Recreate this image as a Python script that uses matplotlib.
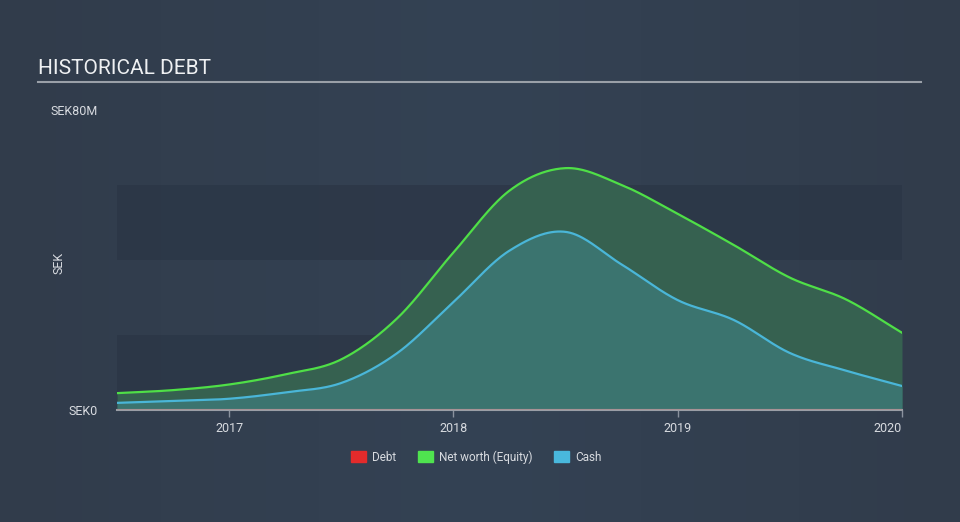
import numpy as np
import matplotlib
matplotlib.use("Agg")
import matplotlib.pyplot as plt
from matplotlib.patches import Patch
from matplotlib.colors import LinearSegmentedColormap

plt.rcParams['font.family'] = ['Roboto', 'DejaVu Sans']

# ---- data (SEK millions) ----
dates = [2016.5, 2016.75, 2017.0, 2017.25, 2017.5, 2017.75, 2018.0, 2018.25,
         2018.5, 2018.75, 2019.0, 2019.25, 2019.5, 2019.75, 2020.0]
net_worth = [4.5, 5.3, 6.8, 9.5, 13.5, 24.5, 42.0, 58.5, 64.5, 60.0, 52.3, 44.0, 35.3, 29.5, 20.6]
cash = [1.9, 2.4, 3.0, 4.7, 7.2, 15.2, 28.8, 42.5, 47.5, 38.8, 29.3, 24.0, 15.2, 10.5, 6.4]
debt = [0.0] * len(dates)
year_ticks = [2017, 2018, 2019, 2020]
y_tick_vals = [0, 80]
y_tick_labels = ["SEK0", "SEK80M"]


def smooth(x, y, n=500):
    """Cubic Hermite curve with centred tangents (Catmull-Rom style) for drawing."""
    x = np.asarray(x, float); y = np.asarray(y, float)
    h = np.diff(x); d = np.diff(y) / h
    m = np.zeros_like(y)
    m[0], m[-1] = d[0], d[-1]
    m[1:-1] = (y[2:] - y[:-2]) / (x[2:] - x[:-2])
    xs = np.linspace(x[0], x[-1], n)
    idx = np.clip(np.searchsorted(x, xs) - 1, 0, len(x) - 2)
    t = (xs - x[idx]) / h[idx]
    h00 = 2 * t**3 - 3 * t**2 + 1; h10 = t**3 - 2 * t**2 + t
    h01 = -2 * t**3 + 3 * t**2; h11 = t**3 - t**2
    ys = h00 * y[idx] + h10 * h[idx] * m[idx] + h01 * y[idx + 1] + h11 * h[idx] * m[idx + 1]
    return xs, ys


BG = '#333f4f'
fig = plt.figure(figsize=(9.6, 5.22), dpi=100)
fig.patch.set_facecolor(BG)

# subtle background gradient
bg_ax = fig.add_axes([0, 0, 1, 1], zorder=-10)
grad = np.linspace(0, 1, 256).reshape(1, -1)
cmap = LinearSegmentedColormap.from_list('bg', ['#313c4b', '#344254', '#313c4b'])
bg_ax.imshow(grad, aspect='auto', cmap=cmap, extent=[0, 1, 0, 1])
bg_ax.set_axis_off()

ax = fig.add_axes([117 / 960, 112 / 522, (902 - 117) / 960, 300 / 522])
ax.set_facecolor('none')
ax.set_xlim(2016.5, 2020.0)
ax.set_ylim(0, 80)

# bands
for lo, hi in [(0, 20), (40, 60)]:
    ax.axhspan(lo, hi, color='#2b3646', alpha=0.75, zorder=0, lw=0)

xn, yn = smooth(dates, net_worth)
xc, yc = smooth(dates, cash)
ax.fill_between(xn, 0, yn, color='#366150', zorder=1, lw=0)
ax.fill_between(xc, 0, yc, color='#3b746f', zorder=2, lw=0)
ax.plot(xn, yn, color='#4fdf47', lw=1.6, zorder=3)
ax.plot(xc, yc, color='#4ab6d8', lw=1.6, zorder=4)
ax.plot(dates, debt, color='#b08a8a', lw=1.5, zorder=5, alpha=0.6)

for s in ['top', 'right', 'left']:
    ax.spines[s].set_visible(False)
ax.spines['bottom'].set_color('#9a9ea6')
ax.spines['bottom'].set_linewidth(1.5)

ax.set_xticks(year_ticks)
ax.set_xticklabels([str(y) for y in year_ticks])
labels = ax.get_xticklabels()
labels[-1].set_ha('right')
ax.tick_params(axis='x', colors='#8a929e', length=5, width=1, labelcolor='#d8dbe0',
               labelsize=9, pad=4)
ax.set_yticks(y_tick_vals)
ax.set_yticklabels(y_tick_labels)
ax.tick_params(axis='y', length=0, labelcolor='#d8dbe0', labelsize=9, pad=14)
ax.set_ylabel('SEK', color='#d8dbe0', fontsize=9)
ax.yaxis.set_label_coords(-0.066, 0.49)

# title
fig.text(38 / 960, 1 - 68 / 522, 'HISTORICAL DEBT', color='#eef0f2', fontsize=15,
         va='center', ha='left')
fig.add_artist(plt.Line2D([38 / 960, 921 / 960], [1 - 81.5 / 522] * 2,
                          color='#9aa0a8', lw=1.5))

handles = [Patch(color='#e32b2b', label='Debt'),
           Patch(color='#4fe34f', label='Net worth (Equity)'),
           Patch(color='#49b8dd', label='Cash')]
leg = fig.legend(handles=handles, loc='center', bbox_to_anchor=(476 / 960, 1 - 457 / 522),
                 ncol=3, frameon=False, fontsize=8.5, handlelength=1.3, handleheight=1.0,
                 columnspacing=1.8, handletextpad=0.5)
for t in leg.get_texts():
    t.set_color('#d8dbe0')

fig.savefig('out.png', dpi=100, facecolor=BG)
